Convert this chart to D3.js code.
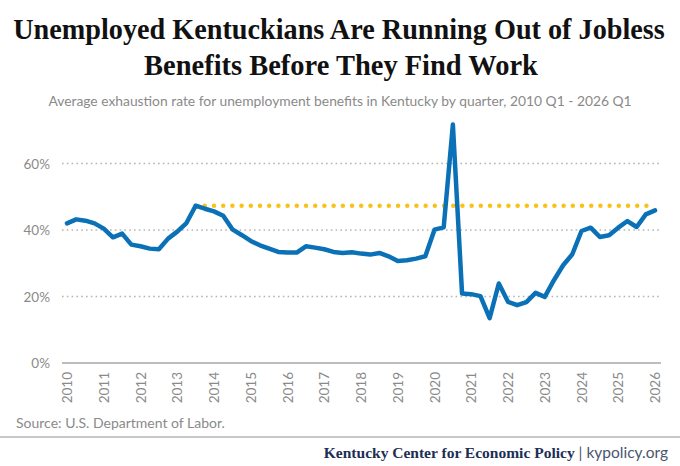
<!DOCTYPE html>
<html>
<head>
  <meta charset="utf-8">
  <script src="https://d3js.org/d3.v7.min.js"></script>
  <style>
    body { margin: 0; background: #fff; }
    svg { display: block; }
  </style>
</head>
<body>
<div id="chart"></div>
<script>
  // 2010 Q1 .. 2026 Q1, one value per quarter (percent)
  var quarters = d3.range(0, 65).map(function(i) { return 2010 + i / 4; });
  var exhaustion = [
    42.0, 43.2, 42.8, 42.0, 40.4, 37.8, 38.9, 35.6, 35.1, 34.4,
    34.2, 37.4, 39.5, 42.1, 47.3, 46.4, 45.6, 44.3, 40.2, 38.5,
    36.7, 35.4, 34.4, 33.4, 33.2, 33.2, 35.1, 34.7, 34.2, 33.4,
    33.1, 33.3, 32.9, 32.6, 33.1, 32.1, 30.7, 30.9, 31.4, 32.1,
    40.1, 40.8, 71.7, 20.9, 20.7, 20.1, 13.5, 23.9, 18.4, 17.4,
    18.3, 21.1, 19.9, 24.9, 29.4, 32.7, 39.7, 40.7, 37.9, 38.4,
    40.7, 42.7, 40.9, 44.7, 45.9
  ];
  var prePeak = 47.3;          // 2013 Q3 level carried forward
  var prePeakFrom = 2013.5;
  var yearTicks = d3.range(2010, 2027);
  var pctTicks = [0, 20, 40, 60];

  var width = 680, height = 466;
  var svg = d3.select("#chart").append("svg")
    .attr("width", width)
    .attr("height", height);

  var x = d3.scaleLinear().domain([2010, 2026]).range([67, 655]);
  var y = d3.scaleLinear().domain([0, 60]).range([363, 163.5]);

  // titles: squeeze each line to the reference width with a horizontal scale
  function fitText(g, str, cx, cy, w) {
    var t = g.append("text").attr("text-anchor", "middle").text(str);
    var len = t.node().getComputedTextLength();
    t.attr("transform", "translate(" + cx + "," + cy + ") scale(" + Math.min(1, w / len) + ",1)");
    return t;
  }
  var title = svg.append("g")
    .attr("font-family", "'Liberation Serif', 'DejaVu Serif', serif")
    .attr("font-weight", "bold")
    .attr("font-size", 30)
    .attr("fill", "#111");
  fitText(title, "Unemployed Kentuckians Are Running Out of Jobless", 339, 39, 652);
  fitText(title, "Benefits Before They Find Work", 341, 75, 394);

  var sub = svg.append("g")
    .attr("font-family", "Lato, 'Open Sans', sans-serif")
    .attr("font-size", 14)
    .attr("fill", "#8a8a8a");
  fitText(sub, "Average exhaustion rate for unemployment benefits in Kentucky by quarter, 2010 Q1 - 2026 Q1", 340, 106, 584);

  // gridlines
  var grid = svg.append("g");
  grid.selectAll("line")
    .data(pctTicks.filter(function(d) { return d > 0; }))
    .enter().append("line")
    .attr("x1", 62).attr("x2", 661)
    .attr("y1", function(d) { return y(d); })
    .attr("y2", function(d) { return y(d); })
    .attr("stroke", "#b5b5b5")
    .attr("stroke-width", 1.6)
    .attr("stroke-dasharray", "1.6,3.2");
  svg.append("line")
    .attr("x1", 62).attr("x2", 661)
    .attr("y1", y(0)).attr("y2", y(0))
    .attr("stroke", "#bdbdbd")
    .attr("stroke-width", 2);

  // y axis labels
  var yAxis = d3.axisLeft(y).tickValues(pctTicks)
    .tickFormat(function(d) { return d + "%"; })
    .tickSize(0).tickPadding(0);
  var gy = svg.append("g").attr("transform", "translate(50,0)").call(yAxis);
  gy.select(".domain").remove();
  gy.selectAll("text")
    .attr("font-family", "Lato, 'Open Sans', sans-serif")
    .attr("font-size", 13.5)
    .attr("fill", "#8a8a8a")
    .attr("dy", "0.35em");

  // x axis labels (rotated)
  var xAxis = d3.axisBottom(x).tickValues(yearTicks)
    .tickFormat(d3.format("d")).tickSize(0).tickPadding(0);
  var gx = svg.append("g").attr("transform", "translate(0,372)").call(xAxis);
  gx.select(".domain").remove();
  gx.selectAll("text")
    .attr("font-family", "Lato, 'Open Sans', sans-serif")
    .attr("font-size", 13.5)
    .attr("fill", "#8a8a8a")
    .attr("transform", "rotate(-90)")
    .attr("text-anchor", "end")
    .attr("x", 0)
    .attr("y", 0)
    .attr("dy", "0.35em");

  // pre-peak reference line
  svg.append("line")
    .attr("x1", x(prePeakFrom)).attr("x2", x(2026))
    .attr("y1", y(prePeak)).attr("y2", y(prePeak))
    .attr("stroke", "#f7c21b")
    .attr("stroke-width", 4.5)
    .attr("stroke-linecap", "round")
    .attr("stroke-dasharray", "0,9.2");

  // main series
  var line = d3.line()
    .x(function(d, i) { return x(quarters[i]); })
    .y(function(d) { return y(d); });
  svg.append("path")
    .datum(exhaustion)
    .attr("d", line)
    .attr("fill", "none")
    .attr("stroke", "#0b71b6")
    .attr("stroke-width", 4.5)
    .attr("stroke-linejoin", "round")
    .attr("stroke-linecap", "round");

  // source + footer
  svg.append("text")
    .attr("x", 16).attr("y", 428)
    .attr("font-family", "Lato, 'Open Sans', sans-serif")
    .attr("font-size", 14)
    .attr("fill", "#8a8a8a")
    .text("Source: U.S. Department of Labor.");

  svg.append("line")
    .attr("x1", 0).attr("x2", width)
    .attr("y1", 437).attr("y2", 437)
    .attr("stroke", "#c8c8c8")
    .attr("stroke-width", 2);

  var foot = svg.append("text")
    .attr("x", 668).attr("y", 458)
    .attr("text-anchor", "end")
    .attr("font-size", 15.5);
  foot.append("tspan")
    .attr("font-family", "'Liberation Serif', serif")
    .attr("font-weight", "bold")
    .attr("fill", "#1c2e55")
    .text("Kentucky Center for Economic Policy");
  foot.append("tspan")
    .attr("font-family", "Lato, 'Open Sans', sans-serif")
    .attr("fill", "#4a5570")
    .text(" | kypolicy.org");
</script>
</body>
</html>
